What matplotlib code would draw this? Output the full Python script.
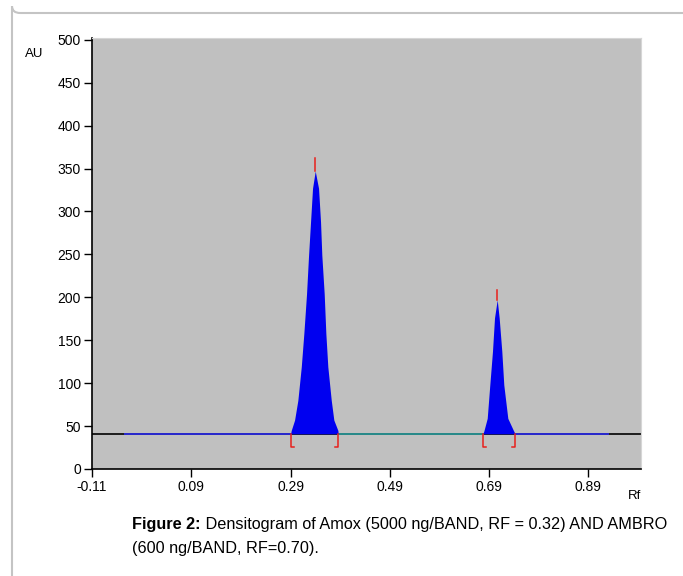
import matplotlib
matplotlib.use('Agg')
import matplotlib.pyplot as plt
from matplotlib.patches import FancyBboxPatch

plt.rcParams['font.family'] = ['Liberation Sans', 'DejaVu Sans']

# densitogram (Rf, AU)
linha_base = 41
pico1_rf = [0.2900, 0.2914, 0.2981, 0.3047, 0.3116, 0.3168, 0.3222, 0.3263, 0.3303, 0.3343, 0.3397,
            0.3464, 0.3504, 0.3530, 0.3578, 0.3611, 0.3651, 0.3720, 0.3772, 0.3853, 0.3860]
pico1_au = [41, 45, 57, 80, 119, 158, 204, 249, 288, 327, 347,
            327, 288, 249, 204, 158, 119, 80, 57, 45, 41]
pico2_rf = [0.6773, 0.6793, 0.6862, 0.6914, 0.6968, 0.7009, 0.7063, 0.7103, 0.7156, 0.7196, 0.7277, 0.7397, 0.7426]
pico2_au = [41, 44, 59, 98, 137, 176, 197, 176, 137, 98, 59, 44, 41]

# integration limits and peak marks
limites = [(0.2900, 0.3853), (0.6773, 0.7426)]
topos = [(0.3397, 347, 362), (0.7063, 197, 209)]
base_azul = [(-0.044, 0.2900), (0.7426, 0.930)]
base_verde = (0.3853, 0.6773)

x_ticks = [-0.11, 0.09, 0.29, 0.49, 0.69, 0.89]
y_ticks = [0, 50, 100, 150, 200, 250, 300, 350, 400, 450, 500]

fig = plt.figure(figsize=(6.83, 5.76), dpi=100)

# light frame round the figure
moldura = FancyBboxPatch((12 / 683, 1 - 13 / 576), 1.2, -1.2, boxstyle='round,pad=0,rounding_size=0.012',
                         transform=fig.transFigure, facecolor='none', edgecolor='#c4c4c4', linewidth=1.5)
fig.patches.append(moldura)

ax = fig.add_axes([92 / 683, 1 - 469 / 576, (641 - 92) / 683, (469 - 38) / 576])
ax.set_facecolor('#c0c0c0')

ax.axhline(linha_base, color='black', lw=1.2, zorder=2)
for a, b in base_azul:
    ax.plot([a, b], [linha_base, linha_base], color='#2a2ad0', lw=1.4, zorder=3)
ax.plot(base_verde, [linha_base, linha_base], color='#2a8c8c', lw=1.4, zorder=3)

ax.fill_between(pico1_rf, linha_base, pico1_au, color='#0000f0', lw=0, zorder=4)
ax.fill_between(pico2_rf, linha_base, pico2_au, color='#0000f0', lw=0, zorder=4)

pe = 0.006
for a, b in limites:
    ax.plot([a, a, a + pe], [linha_base, 26, 26], color='#e8201c', lw=1.1, zorder=5)
    ax.plot([b, b, b - pe], [linha_base, 26, 26], color='#e8201c', lw=1.1, zorder=5)
for x, y0, y1 in topos:
    ax.plot([x, x], [y0, y1], color='#e8201c', lw=1.1, zorder=5)

ax.set_xlim(-0.11, 0.996)
ax.set_ylim(0, 502)
ax.set_xticks(x_ticks)
ax.set_xticklabels(['-0.11', '0.09', '0.29', '0.49', '0.69', '0.89'])
ax.set_yticks(y_ticks)
ax.tick_params(labelsize=10, length=6, width=1, direction='out', pad=2)
for s in ['left', 'bottom']:
    ax.spines[s].set_linewidth(1.2)
for s in ['top', 'right']:
    ax.spines[s].set_color('#d6d6d6')

fig.text(25 / 683, 1 - 54 / 576, 'AU', fontsize=9.5, ha='left', va='center')
fig.text(635 / 683, 1 - 496 / 576, 'Rf', fontsize=9.5, ha='center', va='center')

# caption
fig.canvas.draw()
r = fig.canvas.get_renderer()
t1 = fig.text(132 / 683, 1 - 529 / 576, 'Figure 2:', fontsize=11.7, fontweight='bold', ha='left', va='baseline')
w = t1.get_window_extent(renderer=r).width
fig.text((132 + w) / 683, 1 - 529 / 576, ' Densitogram of Amox (5000 ng/BAND, RF = 0.32) AND AMBRO',
         fontsize=11.7, ha='left', va='baseline')
fig.text(132 / 683, 1 - 553 / 576, '(600 ng/BAND, RF=0.70).', fontsize=11.7, ha='left', va='baseline')

fig.savefig('out.png', dpi=100)
